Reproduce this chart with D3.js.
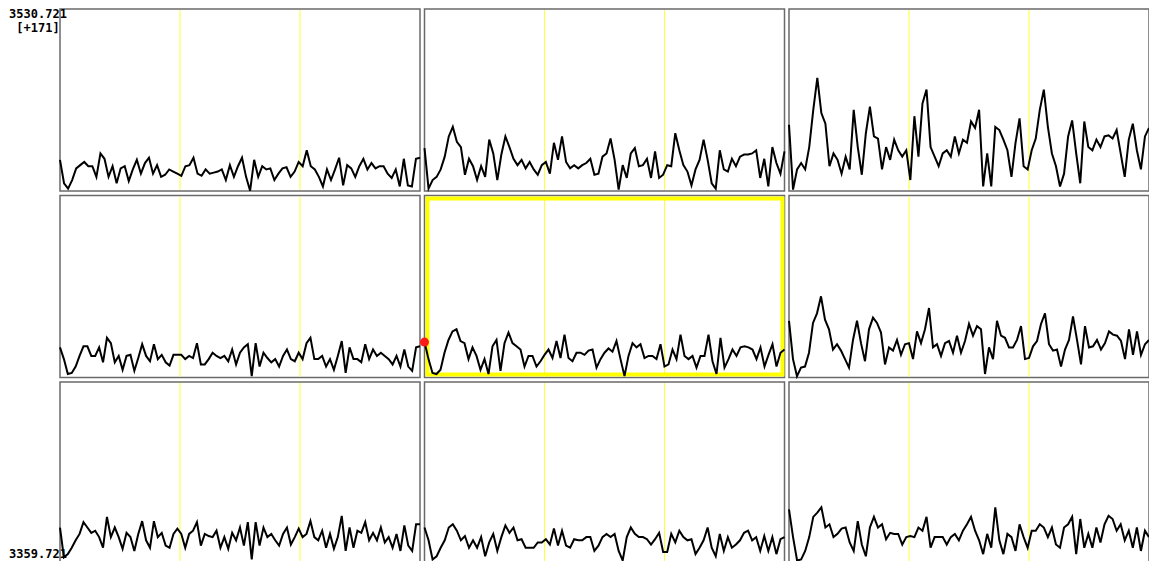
<!DOCTYPE html>
<html lang="en">
  <head>
    <meta charset="utf-8">
    <title>graph grid</title>
    <style>
      body { margin: 0; background: white; }
      svg { display: block; }
      text.lab { font-family: "DejaVu Sans Mono", monospace; font-weight: bold; font-size: 12px; fill: black; }
    </style>
    <script src="https://cdn.jsdelivr.net/npm/d3@7/dist/d3.min.js"></script>
  </head>
  <body>
    <svg id="grid" width="1149" height="561"></svg>
    <script>

// ---------------- data (row, column) ----------------
var yTop = 3530.721, yBot = 3359.721;
var topLabels = ["3530.721", "[+171]"];
var bottomLabel = "3359.721";

var r0c0 = [3389,3367,3362,3370,3381,3384,3387,3383,3383,3373,3395,3390,3373,3383,3367,3381,3383,3369,3380,3389,3376,3386,3391,3376,3384,3373,3375,3380,3378,3376,3374,3383,3384,3391,3376,3374,3380,3376,3377,3378,3380,3370,3384,3373,3383,3391,3373,3360,3389,3373,3383,3380,3381,3370,3376,3381,3382,3373,3378,3387,3383,3398,3383,3380,3373,3364,3380,3370,3380,3391,3365,3384,3381,3373,3383,3390,3380,3386,3381,3383,3383,3376,3372,3380,3364,3390,3365,3364,3390,3391];
var r0c1 = [3400,3362,3370,3373,3380,3392,3411,3420,3406,3401,3375,3390,3383,3370,3383,3373,3408,3395,3370,3394,3411,3401,3390,3384,3389,3381,3387,3380,3375,3384,3387,3376,3405,3389,3411,3387,3381,3384,3381,3384,3386,3390,3375,3376,3392,3395,3409,3389,3361,3384,3372,3395,3400,3383,3384,3390,3372,3397,3372,3375,3384,3383,3414,3398,3384,3378,3365,3380,3389,3408,3389,3367,3362,3398,3380,3378,3390,3383,3392,3394,3394,3395,3398,3372,3390,3364,3401,3386,3376,3397];
var r0c2 = [3422,3361,3380,3386,3380,3401,3436,3466,3433,3423,3383,3395,3389,3376,3392,3380,3436,3401,3375,3414,3439,3411,3409,3380,3401,3389,3408,3398,3392,3398,3370,3430,3392,3442,3455,3401,3392,3383,3395,3398,3392,3411,3395,3408,3405,3425,3419,3436,3364,3395,3364,3420,3417,3408,3398,3373,3405,3428,3383,3380,3398,3409,3436,3455,3420,3395,3383,3364,3376,3411,3426,3395,3367,3425,3401,3398,3408,3401,3411,3412,3409,3417,3395,3373,3408,3423,3398,3380,3411,3419];
var r1c0 = [3388,3377,3363,3364,3370,3380,3389,3389,3380,3380,3388,3374,3397,3392,3374,3380,3367,3380,3381,3366,3378,3391,3380,3375,3391,3377,3381,3374,3371,3381,3381,3381,3377,3380,3378,3392,3372,3372,3377,3383,3380,3378,3380,3375,3386,3372,3383,3388,3391,3361,3392,3370,3383,3378,3374,3377,3370,3380,3386,3377,3375,3383,3377,3392,3397,3377,3377,3380,3370,3377,3367,3380,3394,3364,3388,3377,3377,3374,3391,3377,3386,3380,3383,3380,3377,3372,3380,3370,3386,3370,3366,3388,3389];
var r1c1 = [3393,3377,3364,3363,3367,3383,3395,3403,3405,3394,3392,3377,3388,3380,3367,3377,3363,3389,3395,3366,3392,3402,3392,3389,3386,3370,3380,3380,3370,3375,3381,3386,3378,3394,3378,3400,3378,3375,3383,3383,3381,3385,3386,3369,3377,3383,3387,3384,3394,3377,3361,3380,3392,3388,3391,3378,3380,3380,3377,3391,3370,3372,3386,3377,3400,3380,3377,3380,3369,3380,3380,3400,3375,3363,3397,3369,3377,3386,3380,3388,3389,3388,3386,3377,3388,3370,3381,3391,3370,3383,3386];
var r1c2 = [3413,3377,3361,3369,3370,3383,3411,3420,3436,3414,3405,3386,3391,3385,3377,3369,3395,3413,3392,3375,3405,3416,3411,3402,3372,3388,3385,3395,3381,3391,3392,3377,3403,3392,3405,3425,3388,3391,3380,3392,3394,3383,3399,3383,3394,3410,3399,3408,3405,3363,3388,3377,3413,3399,3397,3388,3388,3395,3408,3377,3378,3389,3394,3410,3420,3391,3385,3386,3370,3386,3395,3417,3395,3372,3408,3388,3389,3395,3386,3392,3403,3400,3399,3394,3377,3405,3381,3403,3381,3391,3395];
var r2c0 = [3394,3366,3369,3375,3382,3388,3399,3394,3389,3391,3385,3375,3404,3385,3394,3385,3374,3389,3385,3372,3388,3400,3382,3375,3400,3385,3389,3377,3375,3388,3393,3388,3375,3388,3391,3399,3377,3388,3386,3385,3391,3375,3385,3374,3389,3382,3394,3377,3399,3364,3399,3377,3394,3385,3388,3382,3377,3388,3394,3378,3385,3393,3385,3388,3400,3385,3382,3391,3375,3388,3374,3385,3405,3372,3394,3375,3391,3389,3399,3382,3389,3382,3394,3380,3385,3375,3388,3372,3396,3377,3372,3397,3397];
var r2c1 = [3394,3382,3364,3367,3375,3382,3394,3397,3391,3382,3386,3375,3382,3375,3385,3367,3380,3388,3372,3385,3396,3389,3394,3382,3383,3375,3375,3375,3380,3380,3383,3378,3393,3377,3391,3377,3375,3383,3382,3382,3385,3385,3372,3377,3385,3388,3385,3388,3372,3363,3385,3394,3388,3385,3385,3383,3378,3383,3389,3371,3371,3388,3380,3391,3385,3382,3383,3369,3375,3382,3394,3375,3367,3388,3372,3385,3375,3378,3382,3389,3391,3382,3385,3372,3386,3372,3385,3369,3383,3385];
var r2c2 = [3411,3385,3363,3364,3372,3385,3404,3408,3413,3394,3397,3385,3388,3393,3394,3380,3372,3400,3378,3367,3394,3404,3394,3397,3383,3389,3388,3388,3378,3385,3386,3385,3394,3391,3404,3375,3385,3385,3385,3378,3385,3388,3382,3391,3397,3404,3391,3382,3369,3388,3375,3413,3382,3369,3388,3385,3372,3397,3385,3375,3391,3391,3397,3394,3385,3394,3378,3375,3394,3397,3404,3369,3402,3375,3388,3375,3394,3380,3397,3405,3402,3391,3397,3382,3391,3375,3394,3372,3391,3385];

var rows = [[r0c0, r0c1, r0c2], [r1c0, r1c1, r1c2], [r2c0, r2c1, r2c2]];
var centerRow = 1, centerCol = 1;
// ---------------------------------------------------------------------------

var left0 = 60, top0 = 9, cellW = 360, cellH = 182, pitchX = 364.5, pitchY = 186.5;

var svg = d3.select('#grid');

rows.forEach(function(row, r) {
  row.forEach(function(series, c) {
    var x0 = left0 + c * pitchX, y0 = top0 + r * pitchY;
    var g = svg.append('g');

    var x = d3.scaleLinear().domain([0, series.length - 1]).range([x0, x0 + cellW]);
    var y = d3.scaleLinear().domain([yBot, yTop]).range([y0 + cellH, y0]);

    g.append('rect').
      attr('x', x0).attr('y', y0).
      attr('width', cellW).attr('height', cellH).
      style('fill', 'white').
      style('stroke', '#6a6a6a').
      style('stroke-width', 1.5);

    // thirds of the time axis
    [1/3, 2/3].forEach(function(f) {
      var xx = x0 + cellW * f;
      g.append('line').
        attr('x1', xx).attr('x2', xx).
        attr('y1', y0 + 1).attr('y2', y0 + cellH - 1).
        style('stroke', '#ffff33').
        style('stroke-width', 1);
    });

    if (r === centerRow && c === centerCol) {
      g.append('rect').
        attr('x', x0 + 3).attr('y', y0 + 3).
        attr('width', cellW - 5).attr('height', cellH - 6).
        style('fill', 'none').
        style('stroke', '#ffff00').
        style('stroke-width', 4);
    }

    var line = d3.line().
      x(function(d, i) { return x(i); }).
      y(function(d) { return y(d); });

    g.append('path').
      datum(series).
      attr('d', line).
      style('fill', 'none').
      style('stroke', 'black').
      style('stroke-width', 2).
      style('stroke-linejoin', 'miter');

    if (r === centerRow && c === centerCol) {
      g.append('circle').
        attr('cx', x(0)).attr('cy', y(series[0])).
        attr('r', 4.5).
        style('fill', '#ff1a1a');
    }
  });
});

svg.append('text').attr('class', 'lab').
  attr('x', 38).attr('y', 18).attr('text-anchor', 'middle').text(topLabels[0]);
svg.append('text').attr('class', 'lab').
  attr('x', 38).attr('y', 32).attr('text-anchor', 'middle').text(topLabels[1]);
svg.append('text').attr('class', 'lab').
  attr('x', 38).attr('y', 558).attr('text-anchor', 'middle').text(bottomLabel);

    </script>
  </body>
</html>
